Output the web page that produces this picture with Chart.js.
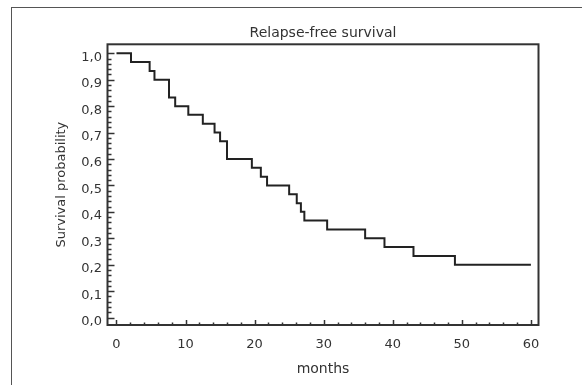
<!DOCTYPE html>
<html>
<head>
<meta charset="utf-8">
<script src="https://cdn.jsdelivr.net/npm/chart.js@4.4.0/dist/chart.umd.min.js"></script>
<style>
  html, body { margin: 0; padding: 0; background: #fff; }
  #page { position: relative; width: 582px; height: 385px; overflow: hidden; }
  #border { position: absolute; left: 11px; top: 7px; width: 620px; height: 420px;
            border-left: 1px solid #555; border-top: 1px solid #555; }
  #chart { position: absolute; left: 0; top: 0; }
</style>
</head>
<body>
<div id="page">
  <div id="border"></div>
  <canvas id="chart" width="582" height="385"></canvas>
</div>
<script>
// Kaplan-Meier steps: month of each drop and survival after it
const months = [0, 2.1, 4.8, 5.5, 7.6, 8.5, 10.4, 12.5, 14.2, 15.0, 16.0, 19.6, 20.9, 21.8,
  25.0, 26.1, 26.7, 27.2, 30.5, 36.0, 38.8, 43.0, 49.0, 60];
const survival = [1.0, 0.967, 0.933, 0.9, 0.833, 0.8, 0.767, 0.733, 0.7, 0.667, 0.6, 0.567, 0.533, 0.5,
  0.467, 0.433, 0.4, 0.367, 0.333, 0.3, 0.267, 0.233, 0.2, 0.2];

const xTicks = [0, 10, 20, 30, 40, 50, 60];
const yTicks = [0, 0.1, 0.2, 0.3, 0.4, 0.5, 0.6, 0.7, 0.8, 0.9, 1.0];

const family = "'DejaVu Sans', Verdana, sans-serif";
const font = { family, size: 13 };
const bigFont = { family, size: 14 };
const textColor = '#333';

// frame around the plot plus inward tick marks (major + minor)
const frameTicks = {
  id: 'frameTicks',
  afterDraw(chart) {
    const { ctx, chartArea: a, scales: { x, y } } = chart;
    ctx.save();
    ctx.strokeStyle = '#333';
    ctx.lineWidth = 2;
    ctx.strokeRect(a.left, a.top, a.right - a.left, a.bottom - a.top);
    ctx.lineWidth = 1.5;
    for (let v = 0; v <= 60; v += 2) {
      const px = Math.round(x.getPixelForValue(v)) + 0.5;
      const len = v % 10 === 0 ? 5 : 2.5;
      ctx.beginPath();
      ctx.moveTo(px, a.bottom);
      ctx.lineTo(px, a.bottom - len);
      ctx.stroke();
    }
    for (let i = 0; i <= 50; i++) {
      const py = Math.round(y.getPixelForValue(i / 50)) + 0.5;
      const len = i % 5 === 0 ? 7 : 4;
      ctx.beginPath();
      ctx.moveTo(a.left, py);
      ctx.lineTo(a.left + len, py);
      ctx.stroke();
    }
    ctx.restore();
  }
};

new Chart(document.getElementById('chart'), {
  type: 'line',
  data: {
    datasets: [{
      data: months.map((m, i) => ({ x: m, y: survival[i] })),
      stepped: true,
      borderColor: '#222',
      borderWidth: 2,
      pointRadius: 0,
      fill: false
    }]
  },
  options: {
    responsive: false,
    animation: false,
    layout: { padding: { left: 50, right: 43.5, top: 15, bottom: 0 } },
    plugins: {
      legend: { display: false },
      tooltip: { enabled: false },
      title: {
        display: true,
        text: 'Relapse-free survival',
        fullSize: false,
        color: textColor,
        font: { ...bigFont, weight: 'normal' },
        padding: { top: 9.6, bottom: 2.9 }
      }
    },
    scales: {
      x: {
        type: 'linear',
        min: -1.3,
        max: 61.1,
        afterBuildTicks: s => { s.ticks = xTicks.map(v => ({ value: v })); },
        afterFit: s => { s.height = 60; },
        grid: { display: false, drawTicks: false },
        border: { display: false },
        ticks: { color: textColor, font, padding: 12, maxRotation: 0, autoSkip: false,
                 callback: v => String(v) },
        title: { display: true, text: 'months', color: textColor, font: bigFont,
                 padding: { top: 0, bottom: 7.3 } }
      },
      y: {
        type: 'linear',
        min: -0.028,
        max: 1.034,
        afterBuildTicks: s => { s.ticks = yTicks.map(v => ({ value: v })); },
        afterFit: s => { s.width = 57.5; },
        grid: { display: false, drawTicks: false },
        border: { display: false },
        ticks: { color: textColor, font, padding: 5.5, labelOffset: 4, autoSkip: false,
                 callback: v => v.toFixed(1).replace('.', ',') },
        title: { display: true, text: 'Survival probability', color: textColor, font,
                 padding: { top: 4.2, bottom: 0 } }
      }
    }
  },
  plugins: [frameTicks]
});
</script>
</body>
</html>
